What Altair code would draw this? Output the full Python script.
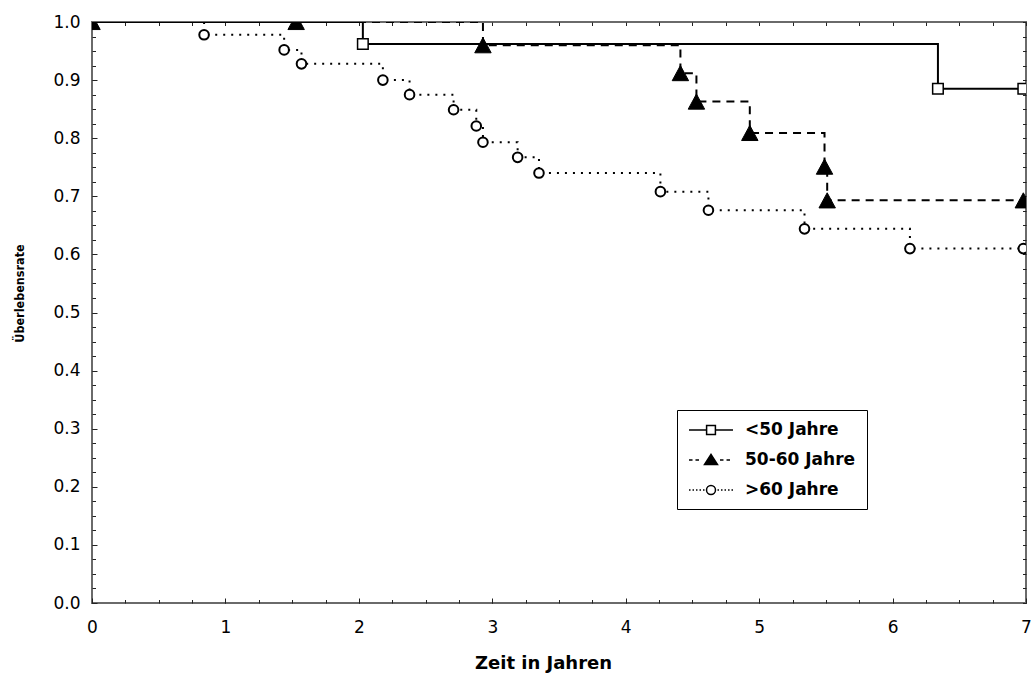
import altair as alt
import pandas as pd

# ---------------- data ----------------
groups = ["<50 Jahre", "50-60 Jahre", ">60 Jahre"]

t_u50 = [0.0, 2.03, 6.34, 6.98]
s_u50 = [1.0, 0.962, 0.885, 0.885]

t_5060 = [0.0, 1.53, 2.93, 4.41, 4.53, 4.93, 5.49, 5.51, 6.98]
s_5060 = [1.0, 1.0, 0.960, 0.912, 0.863, 0.809, 0.751, 0.693, 0.693]

t_o60 = [0.0, 0.84, 1.44, 1.57, 2.18, 2.38, 2.71, 2.88, 2.93, 3.19, 3.35,
         4.26, 4.62, 5.34, 6.13, 6.98]
s_o60 = [1.0, 0.978, 0.952, 0.928, 0.900, 0.875, 0.849, 0.821, 0.793, 0.767,
         0.740, 0.708, 0.676, 0.644, 0.610, 0.610]

x_ticks = [0, 1, 2, 3, 4, 5, 6, 7]
y_ticks = [0.0, 0.1, 0.2, 0.3, 0.4, 0.5, 0.6, 0.7, 0.8, 0.9, 1.0]
x_minor = [i * 0.25 for i in range(29)]
y_minor = [round(i * 0.025, 3) for i in range(41)]

x_title = "Zeit in Jahren"
y_title = "Überlebensrate"

rows = []
for g, ts, ss in [(groups[0], t_u50, s_u50), (groups[1], t_5060, s_5060), (groups[2], t_o60, s_o60)]:
    for i, (t, s) in enumerate(zip(ts, ss)):
        rows.append({"grp": g, "t": t, "s": s, "i": i})
df = pd.DataFrame(rows)

# ---------------- styling ----------------
FONT = "DejaVu Sans"
NARROW = "DejaVu Sans Condensed, Liberation Sans Narrow, Liberation Sans, sans-serif"
TICK_COLOR = "#222222"

xscale = alt.Scale(domain=[0, 7], nice=False, zero=False)
yscale = alt.Scale(domain=[0, 1], nice=False, zero=False)

ax_x_labels = alt.Axis(orient="bottom", values=x_ticks, format="d", ticks=False, domain=False,
                       grid=False, labelFont=FONT, labelFontSize=17, labelColor="black",
                       labelPadding=16, labelFlush=False, title=x_title, titleFont=FONT,
                       titleFontSize=18, titleFontWeight="bold", titleColor="black",
                       titleX=451, titleY=60, titleBaseline="middle", titleAlign="center")
ax_y_labels = alt.Axis(orient="left", values=y_ticks, format=".1f", ticks=False, domain=False,
                       grid=False, labelFont=FONT, labelFontSize=17, labelColor="black",
                       labelPadding=12, labelFlush=False, title=y_title, titleFont=NARROW,
                       titleFontSize=12.5, titleFontWeight="bold", titleColor="black",
                       titleX=-73, titleY=271, titleBaseline="middle", titleAlign="center",
                       titleAngle=270)


def tick_axis(orient, values, size):
    return alt.Axis(orient=orient, values=values, labels=False, domain=False, grid=False,
                    ticks=True, tickSize=size, tickWidth=1, tickColor=TICK_COLOR,
                    offset=-size, title=None)


ax_x_minor = tick_axis("bottom", x_minor, 3.5)
ax_x_major = tick_axis("bottom", x_ticks, 5)
ax_x_top = tick_axis("top", x_minor, 3.5)
ax_y_minor = tick_axis("left", y_minor, 3.5)
ax_y_major = tick_axis("left", y_ticks, 5)
ax_y_right = tick_axis("right", y_minor, 3.5)

base = alt.Chart(df)


def line_layer(g, dash, xaxis, yaxis):
    return base.transform_filter(alt.datum.grp == g).mark_line(
        interpolate="step-after", color="black", strokeWidth=2, strokeDash=dash, clip=True
    ).encode(
        x=alt.X("t:Q", scale=xscale, axis=xaxis),
        y=alt.Y("s:Q", scale=yscale, axis=yaxis),
        order="i:Q",
    )


def point_layer(g, shape, size, fill, sw, xaxis=None, yaxis=None, skip_start=False):
    c = base.transform_filter(alt.datum.grp == g)
    if skip_start:
        c = c.transform_filter(alt.datum.t > 0)
    return c.mark_point(
        shape=shape, size=size, fill=fill, stroke="black", strokeWidth=sw,
        opacity=1, filled=True, clip=True
    ).encode(
        x=alt.X("t:Q", scale=xscale, axis=xaxis),
        y=alt.Y("s:Q", scale=yscale, axis=yaxis),
    )


tri_path = "M0,-0.92L1,0.92L-1,0.92Z"

l1 = line_layer(groups[0], [1, 0], ax_x_labels, ax_y_labels)
l2 = line_layer(groups[1], [8, 6], ax_x_minor, ax_y_minor)
l3 = line_layer(groups[2], [2, 6], ax_x_major, ax_y_major)

p1 = point_layer(groups[0], "square", 112, "white", 1.5, ax_x_top, ax_y_right, skip_start=True)
p2 = point_layer(groups[1], tri_path, 270, "black", 1)
p3 = point_layer(groups[2], "circle", 92, "white", 2, skip_start=True)

# legend symbols (custom paths: line + marker)
leg_u50 = "M-2.75,0H-0.55M0.55,0H2.75M-0.55,-0.55H0.55V0.55H-0.55Z"
leg_5060 = ("M-2.75,0H-2.31M-1.94,0H-1.5M1.12,0H1.56M1.94,0H2.38"
            "M0,-0.69L0.81,0.56L-0.81,0.56Z")
leg_o60 = ("M-2.75,0h0.19M-2.31,0h0.19M-1.88,0h0.19M-1.44,0h0.19M-1.0,0h0.19"
           "M0.81,0h0.19M1.25,0h0.19M1.69,0h0.19M2.13,0h0.19M2.56,0h0.19"
           "M0.56,0A0.56,0.56,0,1,1,-0.56,0A0.56,0.56,0,1,1,0.56,0Z")

legend = alt.Legend(orient="none", legendX=585, legendY=388, padding=11,
                    strokeColor="black", fillColor="white", title=None,
                    labelFont=FONT, labelFontSize=17, labelFontWeight="bold",
                    labelColor="black", symbolSize=256, symbolStrokeWidth=1.5,
                    symbolOpacity=1, symbolOffset=14, labelOffset=25, rowPadding=13)

leg = base.mark_point(size=0, strokeWidth=1.5, filled=False, clip=True).encode(
    x=alt.X("t:Q", scale=xscale, axis=None),
    y=alt.Y("s:Q", scale=yscale, axis=None),
    shape=alt.Shape("grp:N", scale=alt.Scale(domain=groups, range=[leg_u50, leg_5060, leg_o60]),
                    legend=legend),
    fill=alt.Fill("grp:N", scale=alt.Scale(domain=groups, range=["white", "black", "white"]),
                  legend=legend),
    stroke=alt.Stroke("grp:N", scale=alt.Scale(domain=groups, range=["black", "black", "black"]),
                      legend=legend),
)

chart = alt.layer(l1, l2, l3, p1, p2, p3, leg).resolve_axis(
    x="independent", y="independent"
).properties(
    width=934, height=581,
    padding={"left": 92, "top": 22, "right": 5, "bottom": 72},
    autosize=alt.AutoSizeParams(type="none"),
    background="white",
).configure_view(stroke="#6a6a6a", strokeWidth=2)

chart.save("out.html", embed_options={"renderer": "svg", "actions": False})
